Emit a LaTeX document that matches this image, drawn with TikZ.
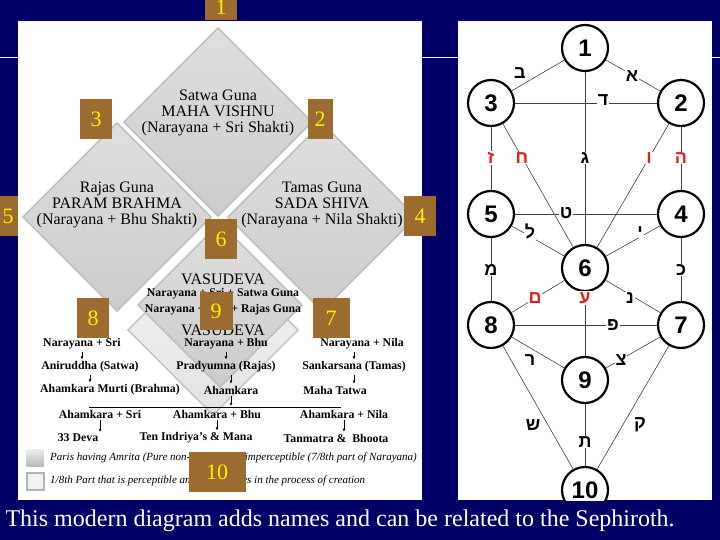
\documentclass[tikz,border=0pt]{standalone}
\usepackage{fontspec}
\usetikzlibrary{arrows.meta}
\setmainfont{Liberation Serif}
\newfontfamily\heb{Liberation Sans}
\newfontfamily\sefsans{Liberation Sans}
\definecolor{navy}{HTML}{000066}
\definecolor{brownbox}{HTML}{9C6B30}
\definecolor{hebred}{HTML}{E0201E}
\begin{document}
\begin{tikzpicture}[x=1pt,y=-1pt,
  numbox/.style={fill=brownbox,text=yellow,minimum width=32pt,minimum height=40pt,inner sep=0pt,font=\fontsize{22}{22}\selectfont},
  dia/.style={draw=gray!50,line width=1.5pt,top color=gray!25,bottom color=gray!40},
  dialight/.style={draw=gray!45,line width=1.5pt,top color=gray!8,bottom color=gray!22},
  gtext/.style={align=center,font=\fontsize{16}{16}\selectfont},
  btext/.style={font=\bfseries\fontsize{11.8}{12}\selectfont,inner sep=1pt},
  itext/.style={font=\itshape\fontsize{11}{12}\selectfont,anchor=west,inner sep=0pt},
  arr/.style={-{Latex[length=3pt,width=3pt]},line width=0.7pt,shorten <=1pt,shorten >=1pt},
  sef/.style={circle,draw=black,line width=2.2pt,fill=white,minimum size=46pt,inner sep=0pt,font=\sefsans\bfseries\fontsize{24}{24}\selectfont},
  path/.style={draw=black!75,line width=0.6pt},
  hl/.style={fill=white,inner sep=1pt,font=\heb\bfseries\fontsize{18}{18}\selectfont},
  hlr/.style={hl,text=hebred}]
\fill[navy] (0,0) rectangle (720,540);
\useasboundingbox (0,0) rectangle (720,540);
\draw[white,line width=0.8pt] (0,57) -- (720,57);
\fill[white] (18,21) rectangle (422,500);
\fill[white] (458,21) rectangle (712,500);
% diamonds
\def\dmd#1#2#3#4{\path[#1] (#2,#3-#4) -- (#2+#4,#3) -- (#2,#3+#4) -- (#2-#4,#3) -- cycle;}
\dmd{dialight}{213}{330}{85}
\dmd{dia}{220}{305}{82}
\dmd{dia}{218}{122}{94}
\dmd{dia}{117}{217}{94}
\dmd{dia}{322}{217}{94}
\node[gtext] (sat) at (218,113) {Satwa Guna\\MAHA VISHNU\\(Narayana + Sri Shakti)};
\node[gtext] (raj) at (117,205) {Rajas Guna\\PARAM BRAHMA\\(Narayana + Bhu Shakti)};
\node[gtext] (tam) at (322,205) {Tamas Guna\\SADA SHIVA\\(Narayana + Nila Shakti)};
\node[font=\fontsize{16}{16}\selectfont] (vas1) at (223,279) {VASUDEVA};
\node[btext] (ns) at (223,294) {Narayana + Sri + Satwa Guna};
\node[btext] (nb) at (223,310) {Narayana + Bhu + Rajas Guna};
\node[font=\fontsize{16}{16}\selectfont] (vas2) at (223,330) {VASUDEVA};
% rows
\node[btext] (a1) at (82,344) {Narayana + Sri};
\node[btext] (b1) at (226,344) {Narayana + Bhu};
\node[btext] (c1) at (362,344) {Narayana + Nila};
\node[btext] (a2) at (90,367) {Aniruddha (Satwa)};
\node[btext] (b2) at (226,367) {Pradyumna (Rajas)};
\node[btext] (c2) at (354,367) {Sankarsana (Tamas)};
\node[btext] (a3) at (110,390) {Ahamkara Murti (Brahma)};
\node[btext] (b3) at (231,390) {Ahamkara};
\node[btext] (c3) at (335,390) {Maha Tatwa};
\coordinate (hl1) at (89,407); \coordinate (hl2) at (341,407);
\coordinate (hm) at (231,407);
\node[btext] (a4) at (100,414) {Ahamkara + Sri};
\node[btext] (b4) at (217,414) {Ahamkara + Bhu};
\node[btext] (c4) at (344,414) {Ahamkara + Nila};
\node[btext] (a5) at (78,438) {33 Deva};
\node[btext] (b5) at (196,438) {Ten Indriya's \& Mana};
\node[btext] (c5) at (336,438) {Tanmatra \&\ \ Bhoota};
\draw[arr] (a1) -- (a1|-a2.north);
\draw[arr] (b1) -- (b1|-b2.north);
\draw[arr] (c1.south-|c2) -- (c2);
\draw[arr] (a2) -- (a2|-a3.north);
\draw[arr] (b2.south-|b3) -- (b3);
\draw[arr] (c2) -- (c2|-c3.north);
\draw[arr] (b3) -- (hm);
\draw[line width=0.7pt] (hl1) -- (hl2);
\draw[arr] (a4) -- (a4|-a5.north);
\draw[arr] (b4) -- (b4|-b5.north);
\draw[arr] (c4) -- (c4|-c5.north);
% legend
\node[minimum size=17pt,inner sep=0pt,top color=gray!15,bottom color=gray!55] (l1) at (35,458) {};
\node[minimum size=17pt,inner sep=0pt,draw=gray!60,line width=2pt,fill=gray!10] (l2) at (35,481) {};
\node[itext] (t1) at (50,458) {Paris having Amrita (Pure non-perceptible, imperceptible (7/8th part of Narayana)};
\node[itext] (t2) at (50,481) {1/8th Part that is perceptible and participates in the process of creation};
% number boxes
\node[numbox,minimum height=27pt] (n1) at (221,7) {1};
\node[numbox] (n3) at (96,119) {3};
\node[numbox,minimum width=25pt] (n2) at (320,119) {2};
\node[numbox,minimum width=20pt] (n5) at (8,216) {5};
\node[numbox] (n4) at (420,216) {4};
\node[numbox] (n6) at (221,239) {6};
\node[numbox] (n8) at (93,318) {8};
\node[numbox,minimum width=33pt,minimum height=38pt] (n9) at (216,311) {9};
\node[numbox,minimum width=37pt] (n7) at (331,318) {7};
\node[numbox,minimum width=57pt] (n10) at (217,472) {10};
% sephiroth
\begin{scope}
\clip (458,21) rectangle (712,500);
\node[sef] (s1) at (585,48) {1};
\node[sef] (s3) at (491,103) {3};
\node[sef] (s2) at (681,103) {2};
\node[sef] (s5) at (491,214) {5};
\node[sef] (s4) at (681,214) {4};
\node[sef] (s6) at (585,268) {6};
\node[sef] (s8) at (491,325) {8};
\node[sef] (s7) at (681,325) {7};
\node[sef] (s9) at (585,380) {9};
\node[sef] (s10) at (585,490) {10};
\foreach \a/\b in {s1/s3,s1/s2,s3/s2,s3/s5,s3/s6,s1/s6,s2/s6,s2/s4,s5/s4,s5/s6,s4/s6,s5/s8,s4/s7,s6/s8,s6/s9,s6/s7,s8/s7,s8/s9,s9/s7,s8/s10,s7/s10,s9/s10}
  \draw[path] (\a) -- (\b);
\end{scope}
\node[hl] (hb) at (520,73) {ב};
\node[hl] (ha) at (632,76) {א};
\node[hl] (hd) at (603,100) {ד};
\node[hlr] (hz) at (491,158) {ז};
\node[hlr] (hh) at (522,158) {ח};
\node[hl] (hg) at (585,158) {ג};
\node[hlr] (hv) at (649,158) {ו};
\node[hlr] (hhe) at (681,158) {ה};
\node[hl] (ht) at (566,213) {ט};
\node[hl] (hl) at (530,231) {ל};
\node[hl] (hy) at (640,232) {י};
\node[hl] (hm1) at (491,270) {מ};
\node[hl] (hk) at (681,270) {כ};
\node[hlr] (hs) at (535,298) {ם};
\node[hlr] (hay) at (585,298) {ע};
\node[hl] (hn) at (630,298) {נ};
\node[hl] (hp) at (613,325) {פ};
\node[hl] (hr) at (530,360) {ר};
\node[hl] (hts) at (621,360) {צ};
\node[hl] (hsh) at (533,425) {ש};
\node[hl] (hq) at (640,425) {ק};
\node[hl] (hta) at (585,442) {ת};
% caption
\node[text=white,anchor=west,font=\fontsize{24}{24}\selectfont] (cap) at (2,521) {This modern diagram adds names and can be related to the Sephiroth.};
\end{tikzpicture}
\end{document}
